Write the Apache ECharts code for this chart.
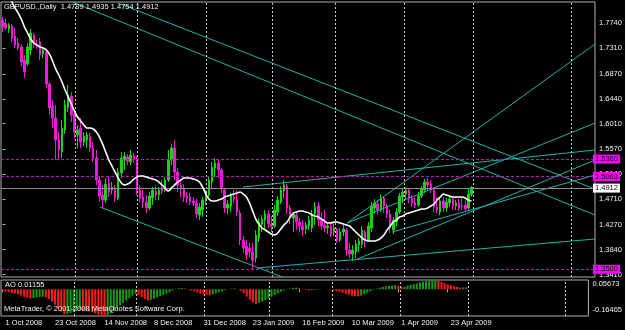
<!DOCTYPE html>
<html><head><meta charset="utf-8">
<script src="https://cdn.jsdelivr.net/npm/echarts@6/dist/echarts.min.js"></script>
<style>html,body{margin:0;padding:0;background:#000;}#c{width:625px;height:330px;}</style>
</head><body><div id="c"></div>
<script>
const symbolName = 'GBPUSD.,Daily';
const dateLabels = ['1 Oct 2008','23 Oct 2008','14 Nov 2008','8 Dec 2008','31 Dec 2008','23 Jan 2009','16 Feb 2009','10 Mar 2009','1 Apr 2009','23 Apr 2009'];
const dateLabelBars = [0,16,32,48,64,80,96,112,128,144];
const slotCount = 190;

const opens = [1.7797,1.7728,1.7642,1.7694,1.7521,1.7401,1.7332,1.7108,1.7039,1.7280,
1.7539,1.7383,1.7418,1.7211,1.7246,1.6694,1.6315,1.6108,1.5728,1.5522,
1.5901,1.6280,1.6487,1.6177,1.5815,1.5935,1.5694,1.5728,1.5797,1.5590,
1.5418,1.5039,1.4780,1.4694,1.4987,1.4866,1.4901,1.4728,1.5159,1.5384,
1.5435,1.5349,1.5453,1.5418,1.4866,1.4746,1.4660,1.4556,1.4728,1.4849,
1.4780,1.4901,1.4866,1.5039,1.5384,1.5590,1.5177,1.4953,1.4901,1.4763,
1.4746,1.4677,1.4642,1.4436,1.4522,1.4677,1.4780,1.5004,1.5246,1.5332,
1.5211,1.4866,1.4556,1.4591,1.4746,1.4711,1.4470,1.4004,1.3901,1.3866,
1.3798,1.3694,1.4039,1.4280,1.4349,1.4453,1.4280,1.4246,1.4487,1.4660,
1.4849,1.4935,1.4556,1.4384,1.4436,1.4315,1.4246,1.4194,1.4246,1.4211,
1.4453,1.4591,1.4349,1.4263,1.4211,1.4246,1.4142,1.4194,1.4004,1.4142,
1.4177,1.3832,1.3763,1.3798,1.3918,1.3935,1.4142,1.4004,1.4211,1.4556,
1.4625,1.4522,1.4728,1.4591,1.4453,1.4177,1.4315,1.4487,1.4746,1.4797,
1.4866,1.4728,1.4642,1.4608,1.4763,1.4866,1.5004,1.4970,1.4866,1.4573,
1.4487,1.4677,1.4556,1.4642,1.4711,1.4591,1.4642,1.4591,1.4608,1.4556,
1.4789];
const highs = [1.7849,1.7832,1.7745,1.7728,1.7659,1.7487,1.7383,1.7194,1.7401,1.7642,
1.7573,1.7452,1.7487,1.7314,1.7280,1.6728,1.6418,1.6332,1.5866,1.6073,
1.6418,1.6677,1.6556,1.6211,1.5987,1.6108,1.5866,1.5866,1.5849,1.5694,
1.5556,1.5108,1.4953,1.5073,1.5091,1.5004,1.4953,1.5246,1.5522,1.5522,
1.5487,1.5556,1.5504,1.5453,1.4953,1.4866,1.4780,1.4832,1.4918,1.4935,
1.4918,1.5039,1.5091,1.5556,1.5659,1.5728,1.5246,1.5039,1.4970,1.4832,
1.4815,1.4746,1.4711,1.4642,1.4746,1.4866,1.5091,1.5349,1.5418,1.5384,
1.5246,1.4901,1.4694,1.4815,1.4866,1.4866,1.4522,1.4073,1.4004,1.3953,
1.3953,1.4177,1.4384,1.4436,1.4522,1.4522,1.4418,1.4608,1.4763,1.4935,
1.5039,1.4970,1.4608,1.4487,1.4470,1.4384,1.4349,1.4315,1.4418,1.4522,
1.4660,1.4660,1.4487,1.4522,1.4315,1.4315,1.4315,1.4211,1.4211,1.4263,
1.4211,1.3953,1.3918,1.4004,1.4039,1.4246,1.4177,1.4315,1.4660,1.4711,
1.4694,1.4797,1.4763,1.4625,1.4522,1.4401,1.4556,1.4815,1.4901,1.4918,
1.4901,1.4780,1.4746,1.4832,1.4935,1.5056,1.5073,1.5039,1.4918,1.4746,
1.4728,1.4746,1.4728,1.4763,1.4746,1.4694,1.4711,1.4728,1.4694,1.4901,
1.4935];
const lows = [1.7590,1.7625,1.7573,1.7418,1.7314,1.7280,1.7004,1.6797,1.7004,1.7194,
1.7314,1.7297,1.7108,1.7142,1.6625,1.6159,1.5935,1.5384,1.5384,1.5418,
1.5832,1.6211,1.6039,1.5763,1.5590,1.5590,1.5625,1.5590,1.5522,1.5349,
1.4953,1.4660,1.4556,1.4642,1.4746,1.4797,1.4660,1.4694,1.5073,1.5211,
1.5297,1.5297,1.5332,1.4780,1.4660,1.4556,1.4470,1.4522,1.4608,1.4694,
1.4694,1.4797,1.4832,1.5004,1.5297,1.5039,1.4832,1.4746,1.4660,1.4642,
1.4608,1.4591,1.4384,1.4349,1.4401,1.4608,1.4746,1.4901,1.5091,1.5073,
1.4815,1.4470,1.4453,1.4487,1.4642,1.4418,1.3918,1.3780,1.3660,1.3711,
1.3503,1.3625,1.3970,1.4142,1.4177,1.4211,1.4142,1.4211,1.4418,1.4625,
1.4728,1.4453,1.4280,1.4142,1.4177,1.4142,1.4073,1.4108,1.4177,1.4142,
1.4263,1.4246,1.4177,1.4142,1.4108,1.4056,1.4073,1.3953,1.3970,1.4073,
1.3729,1.3694,1.3642,1.3694,1.3798,1.3866,1.3884,1.3970,1.4142,1.4453,
1.4436,1.4487,1.4470,1.4384,1.4125,1.4108,1.4246,1.4453,1.4642,1.4694,
1.4642,1.4573,1.4556,1.4573,1.4728,1.4815,1.4866,1.4815,1.4487,1.4470,
1.4436,1.4487,1.4487,1.4573,1.4522,1.4522,1.4504,1.4522,1.4504,1.4522,
1.4754];
const closes = [1.7677,1.7659,1.7711,1.7487,1.7366,1.7314,1.7073,1.6901,1.7332,1.7573,
1.7383,1.7349,1.7194,1.7280,1.6694,1.6280,1.6108,1.5728,1.5556,1.5935,
1.6332,1.6504,1.6159,1.5866,1.5901,1.5694,1.5797,1.5815,1.5590,1.5418,
1.5039,1.4763,1.4694,1.4970,1.4832,1.4918,1.4728,1.5177,1.5418,1.5453,
1.5366,1.5470,1.5401,1.4866,1.4728,1.4660,1.4556,1.4763,1.4866,1.4780,
1.4866,1.4849,1.5039,1.5384,1.5590,1.5177,1.4953,1.4901,1.4746,1.4728,
1.4660,1.4642,1.4453,1.4573,1.4694,1.4815,1.5039,1.5263,1.5332,1.5211,
1.4901,1.4556,1.4625,1.4763,1.4711,1.4487,1.4004,1.3866,1.3746,1.3798,
1.3660,1.4091,1.4315,1.4366,1.4453,1.4280,1.4246,1.4522,1.4694,1.4866,
1.4953,1.4556,1.4418,1.4453,1.4315,1.4246,1.4177,1.4263,1.4349,1.4453,
1.4573,1.4349,1.4246,1.4211,1.4246,1.4108,1.4211,1.4004,1.4142,1.4194,
1.3832,1.3763,1.3832,1.3935,1.3987,1.4177,1.4004,1.4246,1.4591,1.4642,
1.4522,1.4728,1.4591,1.4453,1.4211,1.4349,1.4487,1.4763,1.4832,1.4866,
1.4728,1.4642,1.4608,1.4763,1.4884,1.5004,1.4953,1.4866,1.4573,1.4522,
1.4677,1.4556,1.4660,1.4711,1.4591,1.4642,1.4556,1.4573,1.4539,1.4797,
1.4912];
const maValues = [1.8435,1.8332,1.8228,1.8108,1.8004,1.7918,1.7814,1.7677,1.7573,1.7470,
1.7401,1.7366,1.7332,1.7314,1.7280,1.7211,1.7090,1.6952,1.6849,1.6728,
1.6590,1.6470,1.6349,1.6228,1.6125,1.6056,1.5987,1.5935,1.5935,1.5918,
1.5866,1.5780,1.5659,1.5522,1.5384,1.5280,1.5177,1.5073,1.4987,1.4953,
1.4970,1.5004,1.5056,1.5091,1.5108,1.5108,1.5091,1.5073,1.5056,1.5039,
1.5004,1.4953,1.4901,1.4849,1.4901,1.4953,1.5004,1.5039,1.5073,1.5073,
1.5073,1.5056,1.5039,1.5004,1.4918,1.4797,1.4711,1.4677,1.4677,1.4694,
1.4711,1.4746,1.4763,1.4780,1.4797,1.4815,1.4832,1.4797,1.4746,1.4642,
1.4504,1.4366,1.4280,1.4211,1.4177,1.4142,1.4108,1.4091,1.4125,1.4194,
1.4263,1.4315,1.4401,1.4470,1.4487,1.4504,1.4504,1.4487,1.4470,1.4436,
1.4418,1.4401,1.4366,1.4332,1.4297,1.4297,1.4315,1.4315,1.4297,1.4280,
1.4263,1.4246,1.4194,1.4142,1.4091,1.4039,1.4004,1.3987,1.3987,1.3987,
1.4004,1.4039,1.4091,1.4177,1.4246,1.4315,1.4349,1.4401,1.4418,1.4453,
1.4470,1.4487,1.4504,1.4522,1.4539,1.4539,1.4556,1.4591,1.4625,1.4694,
1.4746,1.4797,1.4780,1.4763,1.4746,1.4746,1.4746,1.4746,1.4728,1.4694,
1.4677];
const aoValues = [-0.010,-0.014,-0.018,-0.022,-0.026,-0.030,-0.038,-0.046,-0.052,-0.056,
-0.054,-0.050,-0.048,-0.046,-0.050,-0.060,-0.075,-0.095,-0.118,-0.138,
-0.155,-0.152,-0.146,-0.140,-0.132,-0.124,-0.128,-0.132,-0.137,-0.142,
-0.148,-0.155,-0.161,-0.16465,-0.158,-0.148,-0.135,-0.120,-0.100,-0.085,
-0.070,-0.055,-0.040,-0.028,-0.036,-0.048,-0.060,-0.068,-0.064,-0.058,
-0.050,-0.042,-0.035,-0.027,-0.018,-0.008,0.002,0.006,0.008,0.004,
-0.002,-0.008,-0.014,-0.020,-0.026,-0.031,-0.035,-0.037,-0.032,-0.025,
-0.018,-0.012,-0.006,-0.001,0.003,0.005,0.000,-0.010,-0.025,-0.045,
-0.065,-0.080,-0.090,-0.084,-0.076,-0.066,-0.056,-0.046,-0.036,-0.026,
-0.016,-0.008,-0.002,0.004,0.008,0.010,0.006,0.001,-0.004,-0.008,
-0.006,-0.004,-0.002,-0.001,0.000,0.001,-0.003,-0.008,-0.012,-0.016,
-0.022,-0.028,-0.034,-0.040,-0.042,-0.044,-0.040,-0.032,-0.022,-0.012,
-0.004,0.004,0.010,0.014,0.018,0.020,0.022,0.024,0.020,0.014,
0.016,0.021,0.026,0.031,0.036,0.041,0.046,0.050,0.053,0.0555,
0.05673,0.052,0.045,0.038,0.031,0.025,0.019,0.014,0.010,0.0108,
0.01155];

const priceTicks = [1.3410,1.3840,1.4270,1.4710,1.5140,1.5570,1.6010,1.6440,1.6870,1.7310,1.7740];
const priceMin = 1.3367, priceMax = 1.8108;
const aoMin = -0.16465, aoMax = 0.05673;
const aoTicks = [0.05672, 0, -0.16464];
const hLevels = [1.5360, 1.5063, 1.3500];
const bidPrice = 1.4912;
// [startBar, startPrice, endBar, endPrice]
const trendLines = [
  [36.9, 1.8090, 189.5, 1.4884],
  [21.6, 1.8125, 189.5, 1.4435],
  [31.2, 1.4573, 92.0, 1.3315],
  [81.4, 1.3522, 189.5, 1.4022],
  [76.9, 1.4918, 189.5, 1.5556],
  [110.2, 1.4297, 189.5, 1.7383],
  [110.2, 1.4297, 189.5, 1.6021],
  [112.8, 1.3660, 189.5, 1.5384],
  [124.6, 1.4142, 189.5, 1.5125]
];
const gridBars = [23.2, 43.2, 65.3, 86.4, 106.5, 128.5, 150.5, 181.9];

const FONT = 'Liberation Sans';
const TXT = '#f0f0f0';
const BORDER = '#b0b0b0';
const BULL = '#19d219';
const BEAR = '#f21ad0';
const LEVEL = '#b21cb2';
const TEAL = '#20b2aa';
const AO_UP = '#159a15';
const AO_DN = '#ff1a1a';

const cats = Array.from({length: slotCount}, (_, i) => {
  const k = dateLabelBars.indexOf(i);
  return k >= 0 ? dateLabels[k] : '';
});
const showIdx = (i) => dateLabelBars.indexOf(i) >= 0;
const last = closes.length - 1;
const candleData = opens.map((o, i) => [o, closes[i], lows[i], highs[i]]);
const aoData = aoValues.map((v, i) => ({
  value: v,
  itemStyle: { color: (i === 0 || v < aoValues[i - 1]) ? AO_DN : AO_UP }
}));

const trendSeries = trendLines.map(t => ({
  type: 'line', xAxisIndex: 2, yAxisIndex: 0,
  data: [[t[0], t[1]], [t[2], t[3]]],
  showSymbol: false, symbol: 'none', silent: true, clip: true, z: 4,
  lineStyle: { color: TEAL, width: 1 }
}));

const levelLines = hLevels.map(v => ({
  yAxis: v,
  lineStyle: { color: LEVEL, type: [3, 2], width: 1 },
  label: { show: true, position: 'end', distance: -2, formatter: () => v.toFixed(4),
    backgroundColor: '#ff00ff', color: '#000', padding: [1, 2, 0, 2], fontSize: 7.5, fontFamily: FONT }
}));
levelLines.push({
  yAxis: bidPrice,
  lineStyle: { color: '#8c8c8c', type: 'solid', width: 1 },
  label: { show: true, position: 'end', distance: -2, formatter: () => bidPrice.toFixed(4),
    backgroundColor: '#ffffff', color: '#000', padding: [1, 2, 0, 2], fontSize: 7.5, fontFamily: FONT }
});

const vGrid = (xi) => ({
  type: 'line', xAxisIndex: xi, yAxisIndex: xi === 2 ? 0 : 1, data: [], silent: true, z: 1,
  markLine: {
    symbol: ['none', 'none'], silent: true, animation: false,
    label: { show: false },
    lineStyle: { color: '#c8c8c8', type: [2, 2], width: 1 },
    data: gridBars.map(b => ({ xAxis: b }))
  }
});

const aoFmt = v => {
  if (Math.abs(v) < 1e-9) return '{m|0.00}';
  return v > 0 ? '{t|' + aoMax.toFixed(5) + '}' : '{b|' + aoMin.toFixed(5) + '}';
};

const chart = echarts.init(document.getElementById('c'), null, { renderer: 'canvas' });
chart.setOption({
  backgroundColor: '#000',
  animation: false,
  title: [
    { text: symbolName + '  ' + [opens[last], highs[last], lows[last], closes[last]].map(v => v.toFixed(4)).join(' '),
      left: 4, top: 3, padding: 0, textStyle: { color: TXT, fontSize: 7.5, fontWeight: 'normal', fontFamily: FONT } },
    { text: 'AO ' + aoValues[last].toFixed(5), left: 5, top: 281, padding: 0,
      textStyle: { color: TXT, fontSize: 7.5, fontWeight: 'normal', fontFamily: FONT } },
    { text: 'MetaTrader, \u00A9 2001-2008 MetaQuotes Software Corp.', left: 4, top: 305, padding: 0,
      textStyle: { color: TXT, fontSize: 7.5, fontWeight: 'normal', fontFamily: FONT } }
  ],
  grid: [
    { left: 1, top: 2, width: 594, height: 275, show: true, borderColor: BORDER, borderWidth: 1 },
    { left: 1, top: 280, width: 594, height: 36, show: true, borderColor: BORDER, borderWidth: 1 }
  ],
  xAxis: [
    { type: 'category', gridIndex: 0, data: cats, boundaryGap: true,
      axisLine: { show: false }, axisTick: { show: false }, axisLabel: { show: false }, splitLine: { show: false } },
    { type: 'category', gridIndex: 1, data: cats, boundaryGap: true,
      axisLine: { show: false },
      axisTick: { show: true, alignWithLabel: true, interval: (i) => showIdx(i), length: 3, lineStyle: { color: BORDER } },
      axisLabel: { show: true, interval: (i) => showIdx(i), align: 'left', margin: 3, padding: [0, 0, 0, 3],
        color: TXT, fontSize: 7.5, fontFamily: FONT },
      splitLine: { show: false } },
    { type: 'value', gridIndex: 0, min: -0.5, max: slotCount - 0.5, show: false },
    { type: 'value', gridIndex: 1, min: -0.5, max: slotCount - 0.5, show: false }
  ],
  yAxis: [
    { type: 'value', gridIndex: 0, position: 'right', min: priceMin, max: priceMax,
      splitLine: { show: false }, axisLine: { show: false },
      axisTick: { show: true, customValues: priceTicks, length: 3, lineStyle: { color: BORDER } },
      axisLabel: { show: true, customValues: priceTicks, formatter: v => v.toFixed(4), margin: 4,
        color: TXT, fontSize: 7.5, fontFamily: FONT } },
    { type: 'value', gridIndex: 1, position: 'right', min: aoMin, max: aoMax,
      splitLine: { show: false }, axisLine: { show: false },
      axisTick: { show: false },
      axisLabel: { show: true, customValues: aoTicks, margin: 4, showMaxLabel: true, showMinLabel: true,
        formatter: aoFmt,
        rich: {
          t: { padding: [8, 0, 0, 0], color: TXT, fontSize: 7.5, fontFamily: FONT },
          m: { color: TXT, fontSize: 7.5, fontFamily: FONT },
          b: { padding: [0, 0, 13, 0], color: TXT, fontSize: 7.5, fontFamily: FONT }
        } } }
  ],
  series: [
    vGrid(2),
    vGrid(3),
    { type: 'candlestick', xAxisIndex: 0, yAxisIndex: 0, data: candleData, barWidth: 2, z: 3,
      itemStyle: { color: BULL, color0: BEAR, borderColor: BULL, borderColor0: BEAR, borderWidth: 1 },
      markLine: { symbol: ['none', 'none'], silent: true, animation: false, data: levelLines } },
    ...trendSeries,
    { type: 'line', xAxisIndex: 0, yAxisIndex: 0, data: maValues, showSymbol: false, symbol: 'none',
      smooth: 0.3, clip: true, z: 5, lineStyle: { color: '#ffffff', width: 1.6 } },
    { type: 'bar', xAxisIndex: 1, yAxisIndex: 1, data: aoData, barWidth: 2, z: 3 }
  ]
});
</script>
</body></html>
